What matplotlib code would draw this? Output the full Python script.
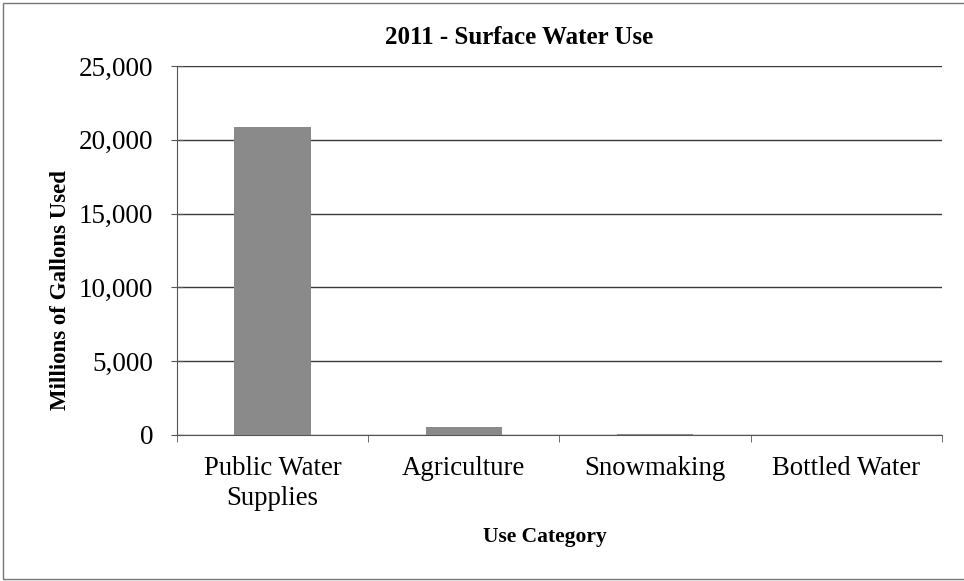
import matplotlib.pyplot as plt
from matplotlib.patches import Rectangle
from matplotlib.ticker import FuncFormatter
import numpy as np

# surface water use, 2011 (millions of gallons)
categories = ["Public Water\nSupplies", "Agriculture", "Snowmaking", "Bottled Water"]
values = [20850, 520, 40, 5]
yticks = [0, 5000, 10000, 15000, 20000, 25000]

plt.rcParams['font.family'] = ['Liberation Serif', 'DejaVu Serif']

fig = plt.figure(figsize=(9.64, 5.81), dpi=100)
ax = fig.add_axes([0.1836, 0.2513, 0.7934, 0.6351])

x = np.arange(len(categories))
ax.bar(x, values, width=0.4, color='#8a8a8a', zorder=3)

ax.set_xlim(-0.5, len(categories) - 0.5)
ax.set_ylim(0, 25000)
ax.set_yticks(yticks)
ax.yaxis.set_major_formatter(FuncFormatter(lambda v, p: "{:,.0f}".format(v)))
ax.grid(axis='y', color='#3a3a3a', linewidth=1.0, zorder=0)

# category labels between boundary ticks, like excel
ax.set_xticks(x)
ax.set_xticklabels(categories, fontsize=19.3, linespacing=1.25)
ax.tick_params(axis='x', length=0, pad=15)
ax.set_xticks(np.arange(-0.5, len(categories)), minor=True)
ax.tick_params(axis='x', which='minor', length=5, color='#555555')
ax.tick_params(axis='y', labelsize=19.5, length=8, direction='inout',
               color='#555555', pad=13)

for s in ['top', 'right']:
    ax.spines[s].set_visible(False)
ax.spines['left'].set_color('#555555')
ax.spines['bottom'].set_color('#555555')

fig.text(0.538, 1 - 37 / 581, "2011 - Surface Water Use", fontsize=18,
         fontweight='bold', ha='center', va='center')
ax.set_ylabel("Millions of Gallons Used", fontsize=16.5, fontweight='bold')
ax.yaxis.set_label_coords(-0.139, 0.393)
fig.text(545 / 964, 1 - 537 / 581, "Use Category", fontsize=15.5,
         fontweight='bold', ha='center', va='center')

# chart frame (right edge falls outside the picture)
fig.patches.append(Rectangle((0.003, 0.004), 1.01, 0.991, transform=fig.transFigure,
                             fill=False, edgecolor='#777777', linewidth=1.0))

fig.savefig("out.png", dpi=100)
